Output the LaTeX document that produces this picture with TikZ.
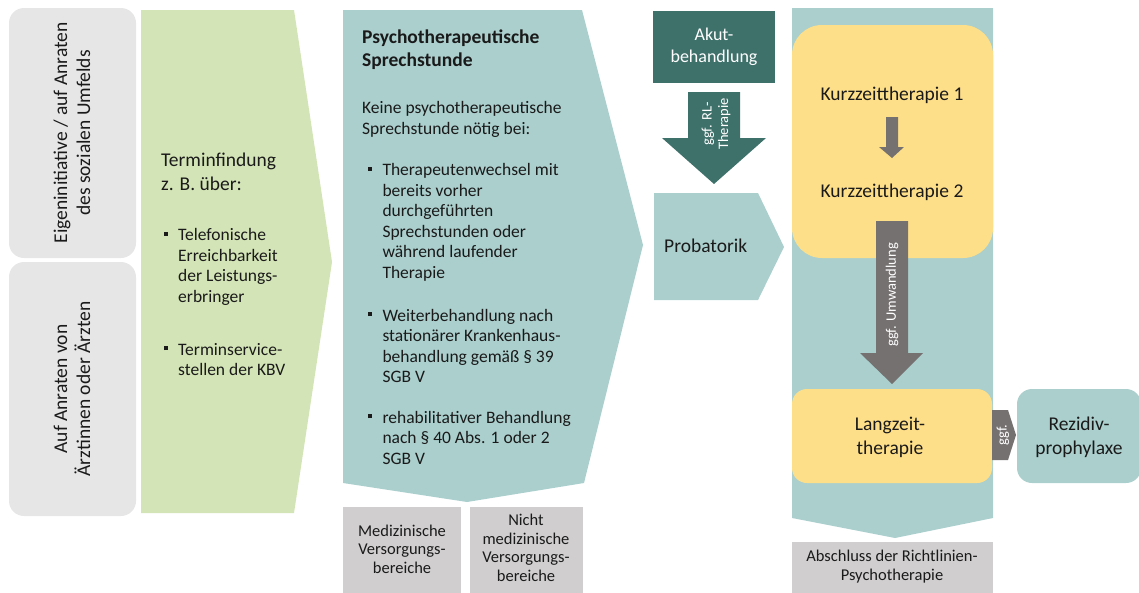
\documentclass[tikz,border=0pt]{standalone}
\usepackage{fontspec}
\setmainfont{Carlito}
\definecolor{greyBox}{HTML}{E6E6E6}
\definecolor{paleGreen}{HTML}{D3E4B6}
\definecolor{paleTeal}{HTML}{AACFCD}
\definecolor{darkTeal}{HTML}{3F716B}
\definecolor{softYellow}{HTML}{FEDF89}
\definecolor{arrowGrey}{HTML}{767171}
\definecolor{tagGrey}{HTML}{D0CECE}
\definecolor{ink}{HTML}{1A1A1A}
\newcommand{\fsBody}{\fontsize{17.5}{20.5}\selectfont}
\newcommand{\fsBig}{\fontsize{19.5}{24}\selectfont}
\newcommand{\fsSide}{\fontsize{19.5}{23}\selectfont}
\newcommand{\fsHead}{\fontsize{19.5}{23.5}\selectfont\bfseries}
\newcommand{\fsSmall}{\fontsize{16.5}{18.5}\selectfont}
\newcommand{\fsTiny}{\fontsize{14.5}{16.5}\selectfont}
\newcommand{\bsq}{\llap{\raisebox{0.29em}{\rule{4pt}{4pt}}\hspace{10.5pt}}}
\begin{document}
\begin{tikzpicture}[x=1pt,y=-1pt,
  txt/.style={anchor=north west, inner sep=0pt, align=left, text=ink},
  lbl/.style={align=center, inner sep=0pt, text=ink},
  wlbl/.style={align=center, inner sep=0pt, text=white},
  block/.style={fill=#1, draw=none}]
\useasboundingbox (0,0) rectangle (1139,592);

% entry routes
\fill[greyBox, rounded corners=15pt] (9,8) rectangle (136,258);
\fill[greyBox, rounded corners=15pt] (9,262) rectangle (136,516);
\node[lbl, rotate=90, font=\fsSide] (selfInit) at (72,133)
  {Eigeninitiative / auf Anraten\\des sozialen Umfelds};
\node[lbl, rotate=90, font=\fsSide] (docAdvice) at (72,389)
  {Auf Anraten von\\Ärztinnen oder Ärzten};

% appointment finding
\fill[paleGreen] (141,10) -- (294,10) -- (332,262) -- (294,513) -- (141,513) -- cycle;
\node[txt, font=\fsBig] (findHead) at (161,149.2) {\strut Terminfindung\\z. B. über:};
\node[txt, font=\fsBody] (findTel) at (178,226.4)
  {\bsq\strut Telefonische\\Erreichbarkeit\\der Leistungs-\\erbringer};
\node[txt, font=\fsBody] (findTss) at (178,340.7)
  {\bsq\strut Terminservice-\\stellen der KBV};

% consultation hour
\fill[paleTeal] (343,10) -- (582,10) -- (643,245) -- (584,483) -- (467,502) -- (343,483) -- cycle;
\node[txt, font=\fsHead] (consHead) at (362,26.5) {\strut Psychotherapeutische\\Sprechstunde};
\node[txt, font=\fsBody] (consNone) at (362,99.2)
  {\strut Keine psychotherapeutische\\Sprechstunde nötig bei:};
\node[txt, font=\fsBody] (consA) at (382.3,161.4)
  {\bsq\strut Therapeutenwechsel mit\\bereits vorher\\durchgeführten\\Sprechstunden oder\\während laufender\\Therapie};
\node[txt, font=\fsBody] (consB) at (382.3,306.7)
  {\bsq\strut Weiterbehandlung nach\\stationärer Krankenhaus-\\behandlung gemäß § 39\\SGB V};
\node[txt, font=\fsBody] (consC) at (382.3,408.7)
  {\bsq\strut rehabilitativer Behandlung\\nach § 40 Abs. 1 oder 2\\SGB V};

\fill[tagGrey] (343,507) rectangle (461,595);
\fill[tagGrey] (470,507) rectangle (583,595);
\node[lbl, font=\fsSmall] (medArea) at (402,549) {Medizinische\\Versorgungs-\\bereiche};
\node[lbl, font=\fsSmall] (nonMedArea) at (526,548) {Nicht\\medizinische\\Versorgungs-\\bereiche};

% acute treatment and probatory sessions
\fill[darkTeal] (653,11) rectangle (775,83);
\node[wlbl, font=\fontsize{18}{21.5}\selectfont] (acute) at (714,47) {Akut-\\behandlung};
\fill[darkTeal] (688,92) -- (740,92) -- (740,138) -- (766,138) -- (714,184)
  -- (662,138) -- (688,138) -- cycle;
\node[wlbl, rotate=90, font=\fsTiny] (rlNote) at (716,124) {ggf. RL-\\Therapie};
\fill[paleTeal] (654,193) -- (758,193) -- (784,247) -- (758,300) -- (654,300) -- cycle;
\node[anchor=base west, inner sep=0pt, text=ink, font=\fsBig] (proba) at (664,252) {Probatorik};

% guideline psychotherapy
\fill[paleTeal] (792,8) -- (993,8) -- (993,518) -- (895,538) -- (792,518) -- cycle;
\fill[softYellow, rounded corners=30pt] (792,25) rectangle (993,258);
\node[anchor=base, inner sep=0pt, text=ink, font=\fsBig] (short1) at (892,100) {Kurzzeittherapie 1};
\node[anchor=base, inner sep=0pt, text=ink, font=\fsBig] (short2) at (892,197) {Kurzzeittherapie 2};
\fill[arrowGrey] (886,117) -- (898,117) -- (898,147) -- (904,147) -- (892,158)
  -- (879,147) -- (886,147) -- cycle;
\fill[arrowGrey] (876,221) -- (908,221) -- (908,353) -- (923,353) -- (892,384)
  -- (860,353) -- (876,353) -- cycle;
\node[wlbl, rotate=90, font=\fsTiny] (convert) at (892,295) {ggf. Umwandlung};
\fill[softYellow, rounded corners=15pt] (792,389) rectangle (992,483);
\node[lbl, font=\fsBig] (longTerm) at (890,437) {Langzeit-\\therapie};
\fill[arrowGrey] (992,410) -- (1008,410) -- (1016,435) -- (1008,460) -- (992,460) -- cycle;
\node[wlbl, rotate=90, font=\fsTiny] (maybe) at (1003,435) {ggf.};
\fill[paleTeal, rounded corners=15pt] (1017,389) rectangle (1141,483);
\node[lbl, font=\fsBig] (relapse) at (1079,437) {Rezidiv-\\prophylaxe};
\fill[tagGrey] (792,542) rectangle (993,595);
\node[lbl, font=\fontsize{16.5}{19}\selectfont] (closing) at (892,567)
  {Abschluss der Richtlinien-\\Psychotherapie};
\end{tikzpicture}
\end{document}
